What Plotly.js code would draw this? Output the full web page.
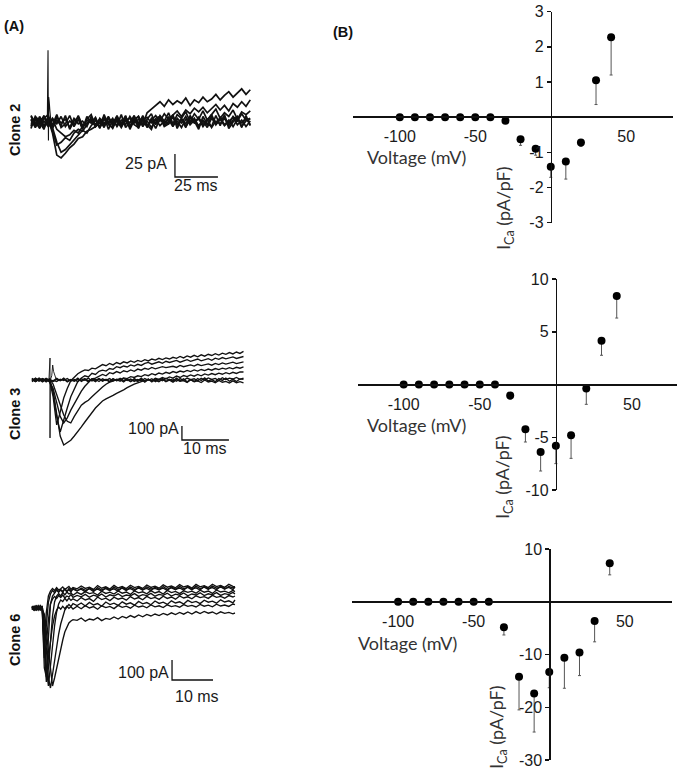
<!DOCTYPE html>
<html><head><meta charset="utf-8">
<script src="https://cdn.plot.ly/plotly-3.0.1.min.js"></script>
<style>html,body{margin:0;padding:0;background:#fff}#chart{width:683px;height:772px}</style>
</head><body><div id="chart"></div>
<script>
// ---------- Panel A : current traces ----------
const clone2Time = [0,2.5,5,7.5,10,12.5,15,17.5,20,22.5,25,27.5,30,32.5,35,37.5,40,42.5,45,47.5,50,52.5,55,57.5,60,62.5,65,67.5,70,72.5,75,77.5,80,82.5,85,87.5,90,92.5,95,97.5,100,102.5,105,107.5,110,112.5,115,117.5,120,122.5,125,127.5];
const clone2Traces = [
  [2,-5,6,-4,3,-12,-36,-39,-34,-28,-24,-18,-16,-10,-8,-5,-1,-3,4,-2,5,-4,3,-6,2,6,-3,10,14,18,22,17,24,19,23,20,26,18,24,21,27,22,25,30,24,29,33,27,31,36,30,35],
  [-4,5,-2,7,-3,-6,-22,-33,-30,-25,-20,-15,-9,-12,-4,2,-6,5,-1,-7,3,-2,6,-5,1,-3,4,-6,2,7,1,9,3,8,12,6,13,9,15,11,16,10,14,19,13,18,12,20,16,22,17,24],
  [6,-3,4,-6,5,-9,-25,-22,-17,-20,-12,-8,-10,-3,2,-5,4,-2,6,-4,1,-6,3,-1,7,-3,2,-5,4,-2,6,-4,1,5,-3,3,-2,7,-1,4,-5,2,8,-3,3,5,-2,6,1,9,2,4],
  [-2,4,-7,1,-5,3,-8,-12,-16,-14,-9,-12,-5,-1,3,-4,2,-6,5,-2,7,-3,1,-5,4,-1,6,-4,2,-7,3,-2,5,-4,1,-6,3,-1,4,-5,2,-3,6,-2,3,-4,1,5,-3,2,-5,1],
  [3,-6,2,5,-3,4,-2,6,-5,1,-3,7,-4,2,-1,5,-6,3,-2,4,-5,2,-3,6,-1,3,-4,1,-6,2,5,-2,3,-5,4,-1,6,-3,2,-4,1,-6,4,-2,5,-3,2,-5,3,-1,4,-3],
  [-5,2,-3,6,0,-4,5,-1,3,-6,4,-2,1,-5,6,-3,3,-4,1,-2,5,-5,2,4,-3,-6,2,5,-1,3,-4,1,-2,6,-3,4,-5,2,-1,5,-3,3,-6,1,-2,4,-4,2,6,-5,1,3],
  [7,-1,-6,4,8,-7,2,-4,7,-8,1,5,-7,3,8,-5,-1,6,-8,2,-4,8,-6,0,5,-7,7,-3,-8,4,6,-5,-2,8,-7,3,-6,5,1,-8,6,-2,-5,7,-4,8,-7,0,5,-6,7,-4],
  [-7,6,1,-8,5,-3,8,-6,-2,7,-5,3,-8,6,-1,4,-7,8,-3,-6,5,-2,7,-8,2,6,-5,3,9,-3,7,1,10,-2,8,4,11,0,9,3,12,2,8,14,4,10,6,13,3,11,8,12]
];
const clone2SpikeTime = [9.5,9.9,10.0,10.15,10.3,10.6,11.0,11.6];
const clone2Spike = [0,78,30,-20,27,22,12,0];
const clone2BarX = [83.7,83.7,108.7];   // 25 ms
const clone2BarY = [-34.8,-59.8,-59.8]; // 25 pA

const clone3Time = [0,0.75,1.5,2.25,3,3.75,4.5,5.25,6,6.75,7.5,8.25,9,9.75,10.5,11.25,12,12.75,13.5,14.25,15,15.75,16.5,17.25,18,18.75,19.5,20.25,21,21.75,22.5,23.25,24,24.75,25.5,26.25,27,27.75,28.5,29.25,30,30.75,31.5,32.25,33,33.75,34.5,35.25,36,36.75,37.5,38.25,39,39.75,40.5,41.25,42,42.75,43.5,44.25,45];
const clone3Traces = [
  [10,-12,8,-6,12,-4,-120,-321,-230,-129,-60,-5,20,45,60,72,68,85,80,98,110,102,118,108,125,115,130,122,136,126,140,132,145,136,150,142,155,146,158,150,162,155,168,158,172,163,176,166,180,170,184,175,188,178,192,183,196,186,200,190,205],
  [-8,14,-5,9,-13,6,-90,-260,-371,-280,-200,-120,-60,-10,14,30,22,48,40,62,70,64,82,76,95,88,100,93,108,99,112,104,118,126,113,122,130,119,134,125,131,140,127,138,145,133,141,150,137,146,152,141,156,148,160,151,158,165,154,162,168],
  [5,-10,13,-7,4,-14,-60,-170,-260,-307,-270,-215,-170,-120,-80,-45,-15,8,14,25,40,30,52,45,60,50,66,58,72,62,78,70,84,76,90,80,85,95,88,92,98,90,104,95,100,108,99,112,103,110,115,106,118,110,122,114,120,127,117,124,129],
  [-12,6,-9,11,-4,8,-30,-100,-180,-250,-295,-307,-260,-215,-180,-160,-145,-120,-95,-75,-50,-30,-15,-8,5,2,15,10,24,18,30,24,38,31,45,36,50,42,55,47,60,52,64,57,68,60,72,64,75,67,78,70,82,74,85,78,88,80,91,84,93],
  [7,-5,11,-9,3,-6,-80,-250,-400,-464,-450,-430,-400,-370,-335,-300,-265,-230,-200,-175,-150,-135,-125,-110,-95,-85,-70,-55,-40,-30,-20,-12,-2,6,-4,12,4,18,8,22,14,28,18,32,24,36,27,40,30,43,35,46,38,49,41,52,44,55,47,58,57],
  [4,-9,12,-6,8,-13,-3,-10,6,-4,11,-8,3,-12,9,-2,13,-7,5,-11,8,-3,10,-6,2,-9,12,-4,7,-10,4,-7,11,-2,9,-12,6,-5,13,-1,8,-9,10,-3,14,2,9,-6,12,0,15,4,11,-4,16,3,13,7,18,5,14],
  [-6,10,-3,8,-11,5,-8,12,-4,7,-13,3,-9,6,-2,11,-7,4,-12,8,-5,2,-10,9,-6,3,-14,7,-9,1,-11,6,-16,4,-8,-2,-13,5,-10,-1,-15,3,-9,-4,-17,2,-12,-6,-18,0,-14,-8,-20,-3,-16,-10,-22,-6,-19,-12,-21],
  [12,-8,3,-14,9,-2,-11,7,-5,13,-9,2,-6,14,-10,4,-13,8,-3,11,-8,5,-15,9,-4,12,-7,2,-12,10,-5,13,-9,6,-14,8,-2,12,-11,5,-8,14,-6,9,-13,3,-10,11,-4,15,-7,2,-12,10,-3,13,-9,6,-11,8,4]
];
const clone3ArtTime = [3.6,3.83,3.83,3.9,4.2,4.4,4.6,4.9,5.2];
const clone3Art = [0,157,-414,0,30,107,60,20,0];
const clone3BarX = [31.9,31.9,41.9];      // 10 ms
const clone3BarY = [-328.6,-428.6,-428.6]; // 100 pA

const clone6Time = [0,0.5,1,1.5,2,2.5,3,3.5,4,4.5,5,5.5,6,6.5,7,7.5,8,8.5,9,9.5,10,11,12,13,14,15,16,17,18,19,20,21,22,23,24,25,26,27,28,29,30,31,32,33,34,35,36,37,38,39,40,41,42,43,44,45,46,47,48,49,49.5];
const clone6Traces = [
  [8,-10,5,-6,12,-2,-300,-345,-150,20,60,75,90,78,92,84,95,80,98,86,94,85,100,88,96,82,102,90,97,86,104,92,99,87,105,93,100,89,106,95,98,90,107,94,101,92,108,96,103,91,109,97,104,93,110,99,105,94,108,100,103],
  [-5,9,-12,4,-8,11,-200,-370,-300,-160,-40,30,60,72,60,78,66,80,70,76,64,78,68,82,72,77,65,84,73,79,70,85,74,80,68,86,76,81,71,87,75,82,70,88,77,83,72,86,78,84,74,89,79,85,73,90,80,84,76,88,82],
  [10,-4,7,-11,3,-7,-120,-300,-390,-280,-180,-90,-20,20,40,32,48,36,50,38,46,35,52,40,47,33,55,42,49,37,54,44,50,39,57,45,52,41,58,47,53,43,59,48,55,44,60,50,56,46,61,52,57,48,63,53,58,49,62,55,60],
  [-9,6,-3,12,-7,4,-60,-200,-350,-400,-330,-260,-190,-130,-80,-40,-10,5,18,8,22,12,25,10,28,15,22,9,30,17,24,13,31,19,26,14,33,21,27,16,35,23,29,18,36,25,31,20,38,27,33,22,39,29,34,24,41,30,36,26,40],
  [4,-11,8,-5,10,-8,-30,-120,-220,-310,-390,-350,-300,-250,-200,-160,-120,-95,-75,-65,-58,-62,-50,-66,-55,-60,-48,-63,-52,-57,-45,-55,-42,-50,-38,-47,-35,-44,-32,-40,-30,-38,-27,-35,-24,-33,-22,-31,-20,-30,-18,-28,-17,-26,-20,-30,-19,-27,-22,-29,-25],
  [-7,5,-10,9,-3,7,-180,-330,-250,-160,-90,-40,-10,5,-6,8,-3,10,-2,6,-5,9,-4,12,0,7,-6,11,2,8,-3,13,3,9,-1,14,5,10,1,15,6,11,2,16,7,12,4,17,8,13,5,18,9,14,6,19,10,15,8,20,17],
  [6,-8,11,-4,2,-10,-250,-180,-60,20,45,58,48,62,52,65,50,60,55,67,53,63,56,68,54,64,58,70,55,66,60,71,57,65,61,72,58,67,62,73,59,68,63,74,60,69,64,75,61,70,65,76,62,71,66,77,63,72,67,78,70],
  [-3,7,-9,5,-12,8,-150,-20,60,85,98,88,102,90,96,105,92,100,108,94,103,96,110,98,104,93,112,99,106,95,113,100,107,97,114,102,108,98,115,103,109,99,116,104,110,101,117,105,111,100,118,106,112,102,119,107,113,103,118,108,105],
  [5,-9,10,-3,7,-6,-200,-90,30,70,88,76,95,82,90,78,97,84,92,80,99,87,94,81,101,88,95,83,102,90,96,84,103,91,97,86,104,92,98,87,105,93,99,88,106,94,100,89,107,95,101,90,108,96,102,91,109,97,103,92,106]
];
const clone6BarX = [34.15,34.15,44.15];   // 10 ms
const clone6BarY = [-260,-360,-360];      // 100 pA

// ---------- Panel B : I-V curves ----------
const voltage = [-100,-90,-80,-70,-60,-50,-40,-30,-20,-10,0,10,20,30,40];
const clone2I   = [0,0,0,0,0,0,0,-0.1,-0.63,-0.9,-1.41,-1.26,-0.72,1.05,2.27];
const clone2Err = [0,0,0,0,0,0,0,0,0.17,0.18,0.3,0.5,0.11,0.69,1.07];
const clone3I   = [0,0,0,0,0,0,0,-1.04,-4.25,-6.4,-5.8,-4.8,-0.38,4.15,8.4];
const clone3Err = [0,0,0,0,0,0,0,0.36,1.2,1.8,1.7,2.2,1.5,1.38,2.1];
const clone6I   = [0,0,0,0,0,0,0,-4.85,-14.2,-17.4,-13.3,-10.6,-9.6,-3.65,7.3];
const clone6Err = [0,0,0,0,0,0,0,1.45,6.3,7.3,3,5.8,4.4,3.95,2.2];
const xTickVals = [-100,-50,50];
const xTickText = ['-100','-50','50'];
const yTicks2 = [-3,-2,-1,1,2,3];
const yTickText2 = ['-3','-2','-1','1','2','3'];
const yTicks3 = [-10,-5,5,10];
const yTickText3 = ['-10','-5','5','10'];
const yTicks6 = [-30,-20,-10,10];
const yTickText6 = ['-30','-20','-10','10'];

// ---------- build ----------
const W = 683, H = 772;
const fx = p => p / W, fy = p => 1 - p / H;
const data = [];
const lineTrace = (x, y, n, w) => data.push({x, y, xaxis:'x'+n, yaxis:'y'+n, type:'scatter', mode:'lines',
  line:{color:'#111', width:w}, hoverinfo:'skip', showlegend:false});

clone2Traces.forEach(t => lineTrace(clone2Time, t, '', 1.7));
lineTrace(clone2SpikeTime, clone2Spike, '', 1.1);
lineTrace(clone2BarX, clone2BarY, '', 1.3);
clone3Traces.forEach(t => lineTrace(clone3Time, t, 2, 1.35));
lineTrace(clone3ArtTime, clone3Art, 2, 0.9);
lineTrace(clone3BarX, clone3BarY, 2, 1.3);
clone6Traces.forEach(t => lineTrace(clone6Time, t, 3, 1.35));
lineTrace(clone6BarX, clone6BarY, 3, 1.3);

const ivSets = [[clone2I, clone2Err, 4], [clone3I, clone3Err, 5], [clone6I, clone6Err, 6]];
ivSets.forEach(([yv, ev, n]) => data.push({
  x: voltage, y: yv, xaxis:'x'+n, yaxis:'y'+n, type:'scatter', mode:'markers',
  marker:{color:'#000', size:8}, cliponaxis:false, hoverinfo:'skip', showlegend:false,
  error_y:{type:'data', symmetric:false, array: ev.map(() => 0), arrayminus: ev, color:'#555', thickness:1, width:1.5}
}));

const hidden = (x0, x1, r) => ({domain:[fx(x0), fx(x1)], range:r, visible:false, fixedrange:true});
const hiddenY = (y0, y1, r) => ({domain:[fy(y1), fy(y0)], range:r, visible:false, fixedrange:true});

const tickFont = {family:'Liberation Sans, Arial, sans-serif', size:16, color:'#1a1a1a'};
function ivAxes(xp0, xp1, xr, yp0, yp1, yr, yt, ytt) {
  const xd = [fx(xp0), fx(xp1)], yd = [fy(yp1), fy(yp0)];
  const xPos = yd[0] + (0 - yr[0]) / (yr[1] - yr[0]) * (yd[1] - yd[0]);
  const yPos = xd[0] + (0 - xr[0]) / (xr[1] - xr[0]) * (xd[1] - xd[0]);
  return [
    {domain:xd, range:xr, anchor:'free', position:xPos, showline:true, linewidth:2, linecolor:'#111',
     showgrid:false, zeroline:false, tickvals:xTickVals, ticktext:xTickText, ticks:'outside', ticklen:5, tickcolor:'rgba(0,0,0,0)',
     tickfont:tickFont, fixedrange:true},
    {domain:yd, range:yr, anchor:'free', position:yPos, side:'left', showline:true, linewidth:1.5, linecolor:'#111',
     showgrid:false, zeroline:false, tickvals:yt, ticktext:ytt, ticks:'outside', ticklen:4, tickwidth:1.5, tickcolor:'#111',
     tickfont:tickFont, fixedrange:true}
  ];
}
const [x4, y4] = ivAxes(353, 673, [-131, 81], 11.7, 222.7, [-3, 3], yTicks2, yTickText2);
const [x5, y5] = ivAxes(358, 677, [-130, 79.6], 279, 490, [-10, 10], yTicks3, yTickText3);
const [x6, y6] = ivAxes(351.7, 671.7, [-130.7, 81], 549, 760, [-30, 10], yTicks6, yTickText6);

const ann = [];
const bold = {family:'Liberation Sans, Arial, sans-serif', size:14.5, color:'#111'};
const lab = {family:'Liberation Sans, Arial, sans-serif', size:16, color:'#1a1a1a'};
const ttl = {family:'Lato, Open Sans, sans-serif', size:18, color:'#333'};
const addAnn = (text, x, y, font, extra) => ann.push(Object.assign({text, x:fx(x), y:fy(y), xref:'paper', yref:'paper',
  showarrow:false, font, xanchor:'center', yanchor:'middle'}, extra || {}));
addAnn('<b>(A)</b>', 14, 26, bold);
addAnn('<b>(B)</b>', 343, 32, bold);
addAnn('<b>Clone 2</b>', 15, 130, bold, {textangle:-90});
addAnn('<b>Clone 3</b>', 15, 414, bold, {textangle:-90});
addAnn('<b>Clone 6</b>', 15, 640, bold, {textangle:-90});
addAnn('25 pA', 169, 164, lab, {xanchor:'right'});
addAnn('25 ms', 196, 186, lab);
addAnn('100 pA', 181, 428, lab, {xanchor:'right'});
addAnn('10 ms', 205, 449, lab);
addAnn('100 pA', 171, 672, lab, {xanchor:'right'});
addAnn('10 ms', 197, 696, lab);
addAnn('Voltage (mV)', 416, 157, ttl);
addAnn('Voltage (mV)', 416, 425, ttl);
addAnn('Voltage (mV)', 407.5, 643, ttl);
addAnn('I<sub>Ca</sub> (pA/pF)', 504, 209, ttl, {textangle:-90});
addAnn('I<sub>Ca</sub> (pA/pF)', 503, 478, ttl, {textangle:-90});
addAnn('I<sub>Ca</sub> (pA/pF)', 497, 728, ttl, {textangle:-90});

const layout = {
  width:W, height:H, margin:{l:0, r:0, t:0, b:0}, paper_bgcolor:'#fff', plot_bgcolor:'rgba(0,0,0,0)',
  showlegend:false,
  xaxis: hidden(28, 252, [-1.74, 128.5]),  yaxis: hiddenY(40, 200, [-84.8, 89.1]),
  xaxis2: hidden(30, 245, [-0.426, 45.32]), yaxis2: hiddenY(350, 455, [-535.7, 214.3]),
  xaxis3: hidden(30, 238, [-0.49, 50.24]),  yaxis3: hiddenY(575, 700, [-460, 165]),
  xaxis4:x4, yaxis4:y4, xaxis5:x5, yaxis5:y5, xaxis6:x6, yaxis6:y6,
  annotations: ann
};
layout.yaxis.anchor = 'x'; layout.yaxis2.anchor = 'x2'; layout.yaxis3.anchor = 'x3';
layout.xaxis.anchor = 'y'; layout.xaxis2.anchor = 'y2'; layout.xaxis3.anchor = 'y3';
Plotly.newPlot('chart', data, layout, {staticPlot:true, displayModeBar:false});
</script></body></html>
